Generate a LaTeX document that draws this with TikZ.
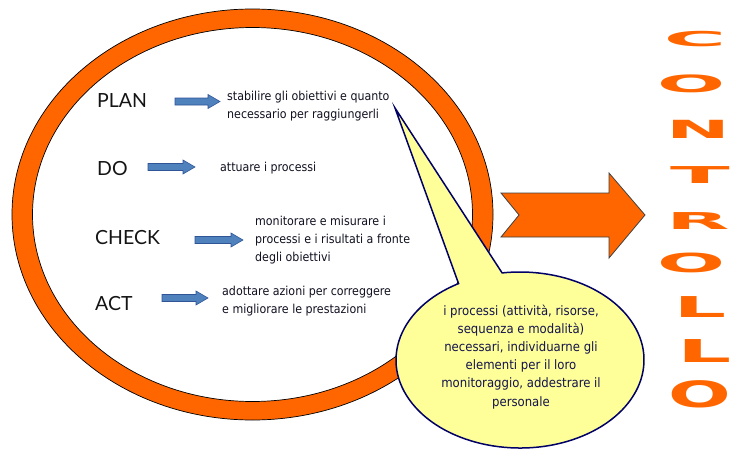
\documentclass[tikz,border=0pt]{standalone}
\usepackage{fontspec}
\usetikzlibrary{calc}
\newfontfamily\bodyfont{DejaVu Sans Condensed}
\newfontfamily\labelfont{Lato}
\newfontfamily\heavyfont{DejaVu Sans}
\definecolor{ringorange}{HTML}{FF6600}
\definecolor{arrowblue}{HTML}{4F81BD}
\definecolor{arrowblueedge}{HTML}{2F5597}
\definecolor{calloutfill}{HTML}{FFFF99}
\definecolor{calloutedge}{HTML}{000066}
\definecolor{bodytext}{HTML}{101020}
\definecolor{callouttext}{HTML}{14144E}
\tikzset{
  ringstyle/.style={fill=ringorange, draw=black, line width=0.7pt, even odd rule},
  bigarrow/.style={fill=ringorange, draw=black!75, line width=0.8pt, line join=miter},
  bluearrowstyle/.style={fill=arrowblue, draw=arrowblueedge, line width=0.6pt},
  calloutstyle/.style={fill=calloutfill, draw=calloutedge, line width=1.5pt, line join=miter},
  pdcalabel/.style={font=\labelfont\fontsize{19.5}{19.5}\selectfont, text=black!92, inner sep=0pt, anchor=base west},
  bodystyle/.style={font=\bodyfont\fontsize{12.3}{18.3}\selectfont, text=bodytext, inner sep=0pt, anchor=north west, align=left},
  calloutlabel/.style={font=\bodyfont\fontsize{13}{18.2}\selectfont, text=callouttext, inner sep=0pt, anchor=north, align=center},
  bigletter/.style={font=\heavyfont\bfseries\fontsize{25}{25}\selectfont, text=ringorange, inner sep=0pt, anchor=center}
}
\newcommand\bluearrow[3]{% x start, x tip, y
  \draw[bluearrowstyle] (#1,#3-3.5) -- (#2-12,#3-3.5) -- (#2-12,#3-7) -- (#2,#3) -- (#2-12,#3+7) -- (#2-12,#3+3.5) -- (#1,#3+3.5) -- cycle;}
\begin{document}
\begin{tikzpicture}[x=1pt,y=-1pt]
\useasboundingbox (0,0) rectangle (733,452);
% orange ring
\path[ringstyle] (252.5,214.5) ellipse[x radius=240.5, y radius=205.5]
                 (252.5,214.5) ellipse[x radius=220, y radius=187];
% big orange arrow
\draw[bigarrow] (501,193) -- (609,193) -- (609,173) -- (645,215) -- (609,258) -- (609,237) -- (501,237) -- (519,215) -- cycle;
% callout
\draw[calloutstyle] (395,108) -- ($(520,360)+(240.3:124 and 88)$)
   arc[start angle=240.3, end angle=-98.3, x radius=124, y radius=88] -- cycle;
% labels
\node[pdcalabel] (plan) at (97,107.3) {PLAN};
\node[pdcalabel] (do) at (97,175) {DO};
\node[pdcalabel] (check) at (95,244.3) {CHECK};
\node[pdcalabel] (act) at (95,310) {ACT};
% blue arrows
\bluearrow{175}{220}{101.5}
\bluearrow{148}{195}{167}
\bluearrow{195}{243}{240}
\bluearrow{162}{208}{298}
% texts
\node[bodystyle] (plantext) at (227,90.7) {stabilire gli obiettivi e quanto\\necessario per raggiungerli};
\node[bodystyle] (dotext) at (220,162.3) {attuare i processi};
\node[bodystyle] (checktext) at (255,215.6) {monitorare e misurare i\\processi e i risultati a fronte\\degli obiettivi};
\node[bodystyle] (acttext) at (222,285.6) {adottare azioni per correggere\\e migliorare le prestazioni};
\node[calloutlabel] (callouttext) at (521,304.4) {i processi (attività, risorse,\\sequenza e modalità)\\necessari, individuarne gli\\elementi per il loro\\monitoraggio, addestrare il\\personale};
% CONTROLLO
\node[bigletter] (l1) at (695,39.5) {\scalebox{3.4}[0.82]{C}};
\node[bigletter] (l2) at (691,84) {\scalebox{3.2}[0.95]{O}};
\node[bigletter] (l3) at (698,129) {\scalebox{3.05}[1.0]{N}};
\node[bigletter] (l4) at (700,175) {\scalebox{3.5}[0.93]{T}};
\node[bigletter] (l5) at (698,221) {\scalebox{3.3}[0.93]{R}};
\node[bigletter] (l6) at (691,263) {\scalebox{3.2}[1.05]{O}};
\node[bigletter] (l7) at (700,307) {\scalebox{3.3}[1.15]{L}};
\node[bigletter] (l8) at (705,351) {\scalebox{3.4}[1.26]{L}};
\node[bigletter] (l9) at (700,394) {\scalebox{2.95}[1.45]{O}};
\end{tikzpicture}
\end{document}
